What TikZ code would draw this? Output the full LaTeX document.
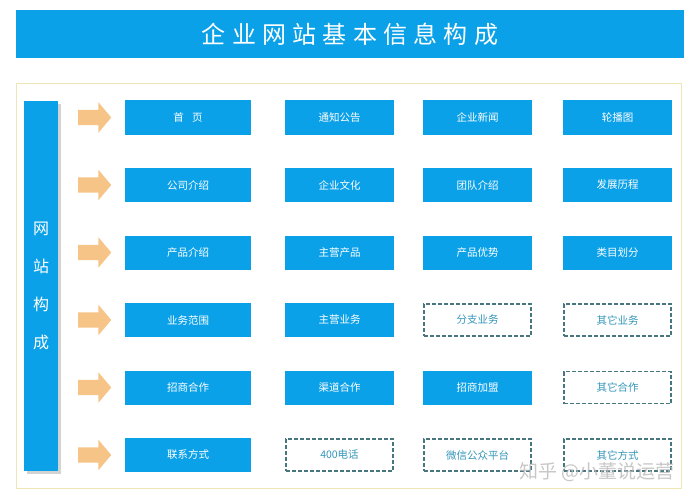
\documentclass[tikz,border=0pt]{standalone}
\usepackage{fontspec}
\setmainfont{Noto Sans CJK SC}
\usetikzlibrary{shapes.arrows,shadows}
\definecolor{siteblue}{HTML}{0BA1E8}
\definecolor{arrowtan}{HTML}{F6C487}
\definecolor{framegold}{HTML}{EEE7B5}
\definecolor{dashgray}{HTML}{48767F}
\definecolor{dashtext}{HTML}{3496B9}

\begin{document}
\begin{tikzpicture}[x=1pt, y=-1pt,
    bluebox/.style={fill=siteblue, text=white, minimum width=109pt, minimum height=34pt, inner sep=0pt, font=\fontsize{10.5}{12}\selectfont},
    dashbox/.style={draw=dashgray, dash pattern=on 4pt off 2pt, line width=1.1pt, text=dashtext, minimum width=107pt, minimum height=32pt, inner sep=0pt, font=\fontsize{10.5}{12}\selectfont},
    wide/.style={minimum width=126pt},
    pointer/.style={single arrow, fill=arrowtan, minimum height=33pt, single arrow head extend=7.5pt, inner xsep=0pt, inner ysep=7.5pt, single arrow tip angle=100}]
        \useasboundingbox (0,0) rectangle (700,500);

        % title bar
        \node[fill=siteblue, minimum width=668pt, minimum height=48pt, inner sep=0pt, text=white,
              font=\fontsize{24}{28}\selectfont\addfontfeature{LetterSpace=26}] (title) at (350,34) {企业网站基本信息构成};

        % frame and side bar
        \node[draw=framegold, line width=1pt, minimum width=665pt, minimum height=404pt] (frame) at (348.5,286) {};
        \node[fill=siteblue, minimum width=34pt, minimum height=370pt, inner sep=0pt,
              drop shadow={shadow xshift=3pt, shadow yshift=-3pt, opacity=0.35}] (side) at (41,286) {};
        \node[text=white, align=center, font=\fontsize{16}{38}\selectfont] (sidetext) at (side) {网\\站\\构\\成};

        % arrows
        \foreach \y [count=\i] in {117.5,185,252.5,320,387.5,455}
            \node[pointer] (arrow\i) at (91.5,\y) {};

        % row 1
        \node[bluebox, wide] (home) at (188,117.5) {首\hspace{0.8em}页};
        \node[bluebox] (notice) at (339.5,117.5) {通知公告};
        \node[bluebox] (news) at (477.5,117.5) {企业新闻};
        \node[bluebox] (banner) at (617.5,117.5) {轮播图};

        % row 2
        \node[bluebox, wide] (company) at (188,185) {公司介绍};
        \node[bluebox] (culture) at (339.5,185) {企业文化};
        \node[bluebox] (team) at (477.5,185) {团队介绍};
        \node[bluebox] (history) at (617.5,185) {发展历程};

        % row 3
        \node[bluebox, wide] (product) at (188,252.5) {产品介绍};
        \node[bluebox] (mainproduct) at (339.5,252.5) {主营产品};
        \node[bluebox] (advantage) at (477.5,252.5) {产品优势};
        \node[bluebox] (category) at (617.5,252.5) {类目划分};

        % row 4
        \node[bluebox, wide] (scope) at (188,320) {业务范围};
        \node[bluebox] (mainbiz) at (339.5,320) {主营业务};
        \node[dashbox] (branch) at (477.5,320) {分支业务};
        \node[dashbox] (otherbiz) at (617.5,320) {其它业务};

        % row 5
        \node[bluebox, wide] (invest) at (188,387.5) {招商合作};
        \node[bluebox] (channel) at (339.5,387.5) {渠道合作};
        \node[bluebox] (franchise) at (477.5,387.5) {招商加盟};
        \node[dashbox] (othercoop) at (617.5,387.5) {其它合作};

        % row 6
        \node[bluebox, wide] (contact) at (188,455) {联系方式};
        \node[dashbox] (phone) at (339.5,455) {400电话};
        \node[dashbox] (wechat) at (477.5,455) {微信公众平台};
        \node[dashbox] (otherway) at (617.5,455) {其它方式};

        \node[text=gray!55, opacity=0.8, font=\fontsize{19}{22}\selectfont] (watermark) at (597,472) {知乎 @小董说运营};
    \end{tikzpicture}
\end{document}
